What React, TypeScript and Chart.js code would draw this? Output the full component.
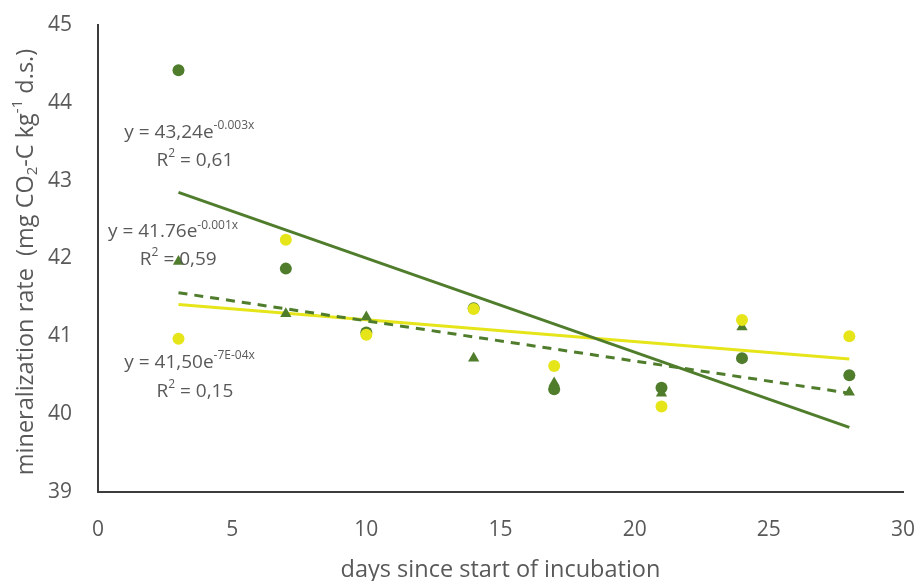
import React, { useEffect, useRef } from "react";
import { Chart, registerables } from "chart.js";

Chart.register(...registerables);

const xDays = [3, 7, 10, 14, 17, 21, 24, 28];
const greenCircles = [44.42, 41.87, 41.05, 41.36, 40.32, 40.34, 40.72, 40.5];
const yellowCircles = [40.97, 42.24, 41.02, 41.35, 40.62, 40.1, 41.21, 41.0];
const greenTriangles = [41.96, 41.29, 41.25, 40.72, 40.4, 40.27, 41.12, 40.28];

const trendX = [3, 28];
const trendGreen = [42.85, 39.83];
const trendYellow = [41.41, 40.71];
const trendDashed = [41.56, 40.27];

const xTicks = [0, 5, 10, 15, 20, 25, 30];
const yTicks = [39, 40, 41, 42, 43, 44, 45];

const DARK = "#4f7d2c";
const YELLOW = "#e5e51a";
const TEXT = "#595959";
const FONT = "'Open Sans', 'DejaVu Sans', sans-serif";

type Seg = { t: string; sup?: boolean; sub?: boolean };

const eq1: Seg[] = [{ t: "y = 43,24e" }, { t: "-0.003x", sup: true }];
const r1: Seg[] = [{ t: "R" }, { t: "2", sup: true }, { t: " = 0,61" }];
const eq2: Seg[] = [{ t: "y = 41.76e" }, { t: "-0.001x", sup: true }];
const r2: Seg[] = [{ t: "R" }, { t: "2", sup: true }, { t: " = 0,59" }];
const eq3: Seg[] = [{ t: "y = 41,50e" }, { t: "-7E-04x", sup: true }];
const r3: Seg[] = [{ t: "R" }, { t: "2", sup: true }, { t: " = 0,15" }];

// anchors in data coordinates (left x, middle y)
const labels: { segs: Seg[]; x: number; y: number }[] = [
  { segs: eq1, x: 0.98, y: 43.62 },
  { segs: r1, x: 2.18, y: 43.26 },
  { segs: eq2, x: 0.37, y: 42.34 },
  { segs: r2, x: 1.56, y: 41.99 },
  { segs: eq3, x: 0.98, y: 40.66 },
  { segs: r3, x: 2.18, y: 40.29 },
];

const yTitle: Seg[] = [
  { t: "mineralization rate  (mg CO" },
  { t: "2", sub: true },
  { t: "-C kg" },
  { t: "-1", sup: true },
  { t: " d.s.)" },
];
const xTitle = "days since start of incubation";

function drawRich(
  ctx: CanvasRenderingContext2D,
  segs: Seg[],
  x: number,
  y: number,
  size: number,
  align: "left" | "center"
) {
  const small = Math.round(size * 0.64);
  const widths = segs.map((s) => {
    ctx.font = `${s.sup || s.sub ? small : size}px ${FONT}`;
    return ctx.measureText(s.t).width;
  });
  const total = widths.reduce((a, b) => a + b, 0);
  let cx = align === "center" ? x - total / 2 : x;
  ctx.textBaseline = "middle";
  ctx.textAlign = "left";
  segs.forEach((s, i) => {
    ctx.font = `${s.sup || s.sub ? small : size}px ${FONT}`;
    const dy = s.sup ? -size * 0.36 : s.sub ? size * 0.3 : 0;
    ctx.fillText(s.t, cx, y + dy);
    cx += widths[i];
  });
}

const textPlugin = {
  id: "texts",
  afterDatasetsDraw(chart: any) {
    const ctx = chart.ctx as CanvasRenderingContext2D;
    const xs = chart.scales.x;
    const ys = chart.scales.y;
    ctx.save();
    ctx.fillStyle = TEXT;
    labels.forEach((l) => {
      drawRich(ctx, l.segs, xs.getPixelForValue(l.x), ys.getPixelForValue(l.y), 19, "left");
    });
    // y title
    ctx.save();
    ctx.translate(26, 262);
    ctx.rotate(-Math.PI / 2);
    drawRich(ctx, yTitle, 0, 0, 23.5, "center");
    ctx.restore();
    // x title
    ctx.font = `23.5px ${FONT}`;
    ctx.textAlign = "center";
    ctx.textBaseline = "middle";
    ctx.fillText(xTitle, (chart.chartArea.left + chart.chartArea.right) / 2, 570);
    ctx.restore();
  },
};

export default function App() {
  const ref = useRef<HTMLCanvasElement | null>(null);
  useEffect(() => {
    if (!ref.current) return;
    const pts = (ys: number[]) => xDays.map((x, i) => ({ x, y: ys[i] }));
    const tr = (ys: number[]) => trendX.map((x, i) => ({ x, y: ys[i] }));
    const chart = new Chart(ref.current, {
      type: "scatter",
      data: {
        datasets: [
          {
            label: "trend green",
            data: tr(trendGreen),
            showLine: true,
            borderColor: DARK,
            borderWidth: 3,
            pointRadius: 0,
            order: 5,
          },
          {
            label: "trend yellow",
            data: tr(trendYellow),
            showLine: true,
            borderColor: YELLOW,
            borderWidth: 3,
            pointRadius: 0,
            order: 6,
          },
          {
            label: "trend dashed",
            data: tr(trendDashed),
            showLine: true,
            borderColor: DARK,
            borderWidth: 3,
            borderDash: [9, 7],
            pointRadius: 0,
            order: 4,
          },
          {
            label: "triangles",
            data: pts(greenTriangles),
            pointStyle: "triangle",
            pointRadius: 6.5,
            backgroundColor: DARK,
            borderColor: DARK,
            borderWidth: 0,
            order: 2,
          },
          {
            label: "green circles",
            data: pts(greenCircles),
            pointStyle: "circle",
            pointRadius: 6,
            backgroundColor: DARK,
            borderColor: DARK,
            borderWidth: 0,
            order: 1,
          },
          {
            label: "yellow circles",
            data: pts(yellowCircles),
            pointStyle: "circle",
            pointRadius: 6,
            backgroundColor: YELLOW,
            borderColor: YELLOW,
            borderWidth: 0,
            order: 0,
          },
        ],
      },
      options: {
        animation: false,
        responsive: false,
        maintainAspectRatio: false,
        layout: { padding: { left: 0, right: 16, top: 25, bottom: 0 } },
        plugins: { legend: { display: false }, tooltip: { enabled: false } },
        scales: {
          x: {
            type: "linear",
            min: 0,
            max: 30,
            afterBuildTicks: (s: any) => {
              s.ticks = xTicks.map((v) => ({ value: v }));
            },
            afterFit: (s: any) => {
              s.height = 89;
              s.paddingLeft = 0;
              s.paddingRight = 0;
            },
            grid: { display: false, drawTicks: false },
            border: { display: true, color: "#3c3c3c", width: 2 },
            ticks: { color: TEXT, font: { family: FONT, size: 21 }, padding: 25, maxRotation: 0 },
          },
          y: {
            type: "linear",
            min: 39,
            max: 45,
            afterBuildTicks: (s: any) => {
              s.ticks = yTicks.map((v) => ({ value: v }));
            },
            afterFit: (s: any) => {
              s.width = 98;
              s.paddingTop = 0;
              s.paddingBottom = 0;
            },
            grid: { display: false, drawTicks: false },
            border: { display: true, color: "#3c3c3c", width: 2 },
            ticks: { color: TEXT, font: { family: FONT, size: 21 }, padding: 26 },
          },
        },
      },
      plugins: [textPlugin],
    } as any);
    return () => chart.destroy();
  }, []);
  return (
    <div style={{ position: "fixed", left: 0, top: 0, width: 919, height: 581, background: "#fff" }}>
      <canvas ref={ref} width={919} height={581} style={{ width: 919, height: 581 }} />
    </div>
  );
}
